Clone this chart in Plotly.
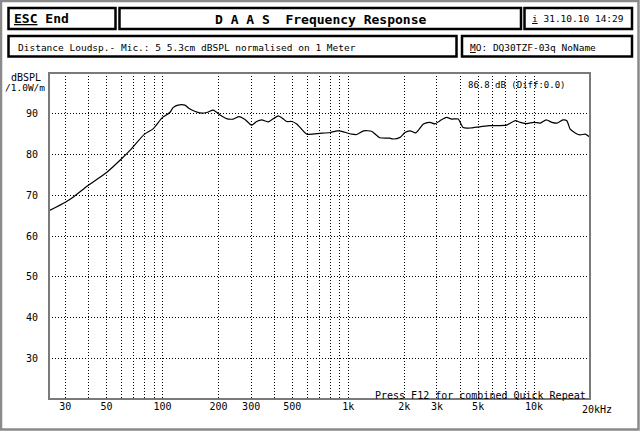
import plotly.graph_objects as go

# ---- data ----
freq_hz = [24.5, 30, 33, 39.7, 50, 60, 68, 80, 89, 100, 109.5, 114, 121, 132, 140, 149,
           159, 173, 187.5, 204, 221, 240, 258, 278, 302, 321, 342, 371, 420, 447, 466, 496,
           528, 598, 704, 800, 870, 900, 1043, 1109, 1210, 1335, 1480, 1673, 1743, 1900,
           2018, 2152, 2309, 2537, 2753, 2928, 3117, 3383, 3600, 3906, 4152, 4506, 5105,
           5776, 6403, 7096, 7928, 8437, 9150, 9950, 10800, 11620, 12480, 13270, 14300,
           15010, 15650, 16650, 17700, 18880, 20000]
spl_db = [66.2, 68.3, 69.5, 72.4, 75.6, 78.9, 81.4, 85.0, 86.3, 89.1, 90.3, 91.5, 92.1, 92.1, 91.2, 90.6,
          90.2, 90.3, 90.9, 89.7, 88.8, 88.7, 89.3, 88.6, 87.2, 88.1, 88.5, 88.0, 89.5, 88.7, 88.1, 88.1,
          87.5, 85.0, 85.2, 85.4, 85.8, 85.8, 85.0, 84.9, 85.8, 85.7, 84.1, 84.0, 83.8, 84.2,
          85.4, 85.8, 85.3, 87.5, 87.9, 87.5, 88.3, 89.1, 88.7, 88.7, 86.6, 86.5, 86.8,
          87.1, 87.1, 87.2, 88.3, 87.9, 87.6, 87.9, 87.7, 88.5, 87.9, 87.7, 88.5,
          88.3, 86.2, 85.3, 84.8, 85.0, 84.2]

grid_freqs = [30, 40, 50, 60, 70, 80, 90, 100, 200, 300, 400, 500, 600, 700, 800, 900,
              1000, 2000, 3000, 4000, 5000, 6000, 7000, 8000, 9000, 10000, 20000]
freq_labels = {30: "30", 50: "50", 100: "100", 200: "200", 300: "300", 500: "500",
               1000: "1k", 2000: "2k", 3000: "3k", 5000: "5k", 10000: "10k"}
y_ticks = [30, 40, 50, 60, 70, 80, 90]

W, H = 640, 431
L, R, T, B = 49, 590, 73, 399
MONO = "DejaVu Sans Mono"


def px(x):
    return (x - L) / (R - L)


def py(y):
    return (B - y) / (B - T)


fig = go.Figure()
fig.add_trace(go.Scatter(x=freq_hz, y=spl_db, mode="lines",
                         line=dict(color="black", width=1.2, shape="spline", smoothing=0.6),
                         hoverinfo="skip", showlegend=False))

fig.update_layout(
    width=W, height=H,
    margin=dict(l=L, r=W - R, t=T, b=H - B, autoexpand=False),
    paper_bgcolor="white", plot_bgcolor="white",
    showlegend=False,
    font=dict(family=MONO, size=10, color="black"),
    xaxis=dict(type="log", range=[1.389, 4.3011],
               tickvals=grid_freqs,
               ticktext=[freq_labels.get(f, "") for f in grid_freqs],
               showgrid=True, gridcolor="black", gridwidth=1, griddash="1px,2px",
               zeroline=False, showline=False, ticks="",
               tickfont=dict(family=MONO, size=10, color="black"),
               fixedrange=True),
    yaxis=dict(range=[20, 100], tickvals=y_ticks,
               showgrid=True, gridcolor="black", gridwidth=1, griddash="1px,2px",
               zeroline=False, showline=False, ticks="", ticklabelstandoff=10,
               tickfont=dict(family=MONO, size=10, color="black"),
               fixedrange=True),
)

shapes = []
# outer frame (dithered look)
shapes.append(dict(type="rect", xref="paper", yref="paper",
                   x0=px(1), x1=px(638.5), y0=py(429.5), y1=py(1),
                   line=dict(color="#8a8a8a", width=2.5), layer="below"))
# plot frame
shapes.append(dict(type="rect", xref="paper", yref="paper",
                   x0=0, x1=1, y0=0, y1=1,
                   line=dict(color="#7a7a7a", width=2), layer="above"))
# header boxes
boxes = [(8.5, 115.5, 8, 29), (119.5, 521, 8, 29), (524.5, 632, 8, 29),
         (8.5, 456.5, 36, 56.5), (462, 632, 36, 56.5)]
for x0, x1, y0, y1 in boxes:
    shapes.append(dict(type="rect", xref="paper", yref="paper",
                       x0=px(x0), x1=px(x1), y0=py(y1), y1=py(y0),
                       line=dict(color="black", width=2.5)))
fig.update_layout(shapes=shapes)


def txt(x, y, s, size=10, anchor="left", bold=False, color="black"):
    fig.add_annotation(xref="paper", yref="paper", x=px(x), y=py(y), text=s,
                       showarrow=False, xanchor=anchor, yanchor="middle",
                       font=dict(family=MONO, size=size, color=color,
                                 weight="bold" if bold else "normal"))


txt(12, 18, "<u>ESC</u>\u00a0End", size=13, bold=True)
txt(320, 19, "D A A S\u00a0\u00a0Frequency Response", size=13, anchor="center", bold=True)
txt(530, 18, "<u>i</u> 31.10.10 14:29", size=9.5)
txt(16, 47, "Distance Loudsp.- Mic.: 5 5.3cm dBSPL normalised on 1 Meter", size=9.5)
txt(468, 47, "<u>M</u>O: DQ30TZF-03q NoName", size=9.5)
txt(43, 77, "dBSPL", size=10, anchor="right")
txt(47, 88, "/1.0W/m", size=9.5, anchor="right")
txt(568, 85, "86.8 dB (Diff:0.0)", size=9, anchor="right")
txt(588, 395, "Press F12 for combined Quick Repeat", size=10, anchor="right")
txt(580, 409, "20kHz", size=10)

fig.write_html("out.html", config={"displayModeBar": False, "staticPlot": True},
               post_script="document.body.style.margin='0';document.body.style.overflow='hidden';")
